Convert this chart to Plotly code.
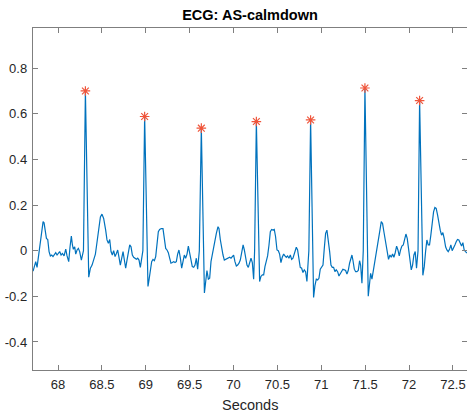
import plotly.graph_objects as go

# ECG samples (seconds, amplitude)
time_s = [
    67.716, 67.735, 67.746, 67.761, 67.776, 67.792, 67.811, 67.830, 67.841, 67.856,
    67.868, 67.883, 67.898, 67.913, 67.928, 67.943, 67.959, 67.974, 67.989, 68.004,
    68.019, 68.035, 68.050, 68.069, 68.088, 68.103, 68.122, 68.137, 68.152, 68.164,
    68.175, 68.190, 68.202, 68.217, 68.232, 68.247, 68.266, 68.290, 68.312, 68.350,
    68.369, 68.388, 68.407, 68.426, 68.445, 68.464, 68.483, 68.501, 68.520, 68.543,
    68.558, 68.574, 68.589, 68.604, 68.619, 68.634, 68.650, 68.665, 68.680, 68.695,
    68.710, 68.726, 68.741, 68.756, 68.771, 68.786, 68.801, 68.817, 68.832, 68.847,
    68.862, 68.877, 68.893, 68.908, 68.923, 68.938, 68.953, 68.967, 68.987, 69.025,
    69.037, 69.052, 69.067, 69.082, 69.098, 69.113, 69.128, 69.143, 69.158, 69.177,
    69.196, 69.211, 69.227, 69.242, 69.257, 69.272, 69.287, 69.303, 69.318, 69.333,
    69.348, 69.363, 69.378, 69.394, 69.409, 69.424, 69.439, 69.454, 69.470, 69.485,
    69.500, 69.515, 69.530, 69.546, 69.561, 69.576, 69.591, 69.610, 69.633, 69.668,
    69.682, 69.697, 69.713, 69.728, 69.743, 69.758, 69.773, 69.789, 69.804, 69.823,
    69.834, 69.849, 69.864, 69.880, 69.895, 69.910, 69.925, 69.940, 69.956, 69.971,
    69.986, 70.001, 70.016, 70.032, 70.047, 70.062, 70.077, 70.092, 70.109, 70.123,
    70.138, 70.153, 70.168, 70.183, 70.199, 70.214, 70.229, 70.240, 70.260, 70.297,
    70.312, 70.328, 70.343, 70.358, 70.373, 70.388, 70.404, 70.419, 70.434, 70.449,
    70.464, 70.479, 70.495, 70.510, 70.525, 70.540, 70.555, 70.571, 70.586, 70.601,
    70.616, 70.631, 70.647, 70.662, 70.677, 70.696, 70.715, 70.730, 70.745, 70.760,
    70.776, 70.791, 70.806, 70.821, 70.836, 70.858, 70.878, 70.912, 70.927, 70.943,
    70.958, 70.973, 70.988, 71.003, 71.019, 71.034, 71.049, 71.064, 71.079, 71.095,
    71.110, 71.125, 71.140, 71.155, 71.170, 71.186, 71.201, 71.216, 71.231, 71.246,
    71.262, 71.277, 71.292, 71.307, 71.322, 71.337, 71.349, 71.360, 71.376, 71.391,
    71.406, 71.421, 71.436, 71.448, 71.463, 71.478, 71.497, 71.535, 71.550, 71.562,
    71.577, 71.592, 71.607, 71.622, 71.637, 71.653, 71.668, 71.683, 71.698, 71.713,
    71.736, 71.751, 71.766, 71.782, 71.797, 71.812, 71.827, 71.842, 71.858, 71.873,
    71.888, 71.903, 71.918, 71.934, 71.949, 71.964, 71.979, 71.994, 72.009, 72.025,
    72.040, 72.055, 72.070, 72.085, 72.102, 72.120, 72.157, 72.173, 72.188, 72.203,
    72.218, 72.233, 72.248, 72.264, 72.279, 72.294, 72.309, 72.325, 72.340, 72.355,
    72.370, 72.385, 72.400, 72.416, 72.431, 72.446, 72.461, 72.476, 72.491, 72.507,
    72.522, 72.537, 72.552, 72.567, 72.582, 72.598, 72.613, 72.628, 72.643, 72.660,
]
ecg = [
    -0.090, -0.055, -0.048, -0.073, -0.026, 0.032, 0.090, 0.127, 0.122, 0.068,
    0.054, 0.049, -0.004, -0.023, -0.019, -0.026, -0.015, -0.009, -0.019, -0.012,
    -0.004, -0.019, -0.012, -0.023, 0.007, -0.023, -0.048, 0.017, 0.064, 0.025,
    0.006, 0.017, -0.015, 0.003, 0.010, -0.004, -0.041, 0.000, 0.700, -0.116,
    -0.077, -0.063, -0.041, -0.015, 0.039, 0.105, 0.148, 0.160, 0.141, 0.090,
    0.047, 0.032, 0.049, -0.004, -0.019, 0.000, -0.026, -0.012, 0.003, -0.029,
    -0.063, -0.033, -0.004, -0.041, -0.077, -0.041, -0.012, 0.025, 0.017, -0.019,
    -0.029, -0.033, -0.038, -0.033, -0.041, -0.073, -0.026, 0.000, 0.588, -0.157,
    -0.128, -0.092, -0.048, -0.038, -0.044, -0.026, 0.047, 0.083, 0.093, 0.097,
    0.097, 0.054, 0.010, 0.003, -0.009, -0.033, -0.055, -0.052, -0.048, -0.052,
    -0.048, -0.015, 0.003, -0.033, -0.077, -0.048, -0.019, -0.033, -0.015, 0.020,
    -0.012, -0.055, -0.070, -0.073, -0.063, -0.033, -0.081, 0.000, 0.537, -0.185,
    -0.135, -0.087, -0.125, -0.121, -0.048, -0.015, 0.000, 0.039, 0.076, 0.105,
    0.097, 0.049, 0.010, -0.019, -0.041, -0.038, -0.033, -0.033, -0.029, -0.033,
    -0.026, -0.019, -0.048, -0.067, -0.063, -0.055, -0.041, -0.009, 0.025, 0.003,
    -0.041, -0.063, -0.073, -0.048, -0.033, -0.052, -0.125, 0.000, 0.566, -0.135,
    -0.113, -0.106, -0.106, -0.070, -0.041, -0.023, 0.025, 0.083, 0.093, 0.090,
    0.093, 0.061, 0.003, 0.000, -0.015, -0.052, -0.029, -0.015, -0.023, -0.029,
    -0.023, -0.033, -0.019, -0.038, -0.033, -0.004, 0.015, 0.003, -0.041, -0.073,
    -0.077, -0.096, -0.084, -0.092, -0.135, 0.000, 0.573, -0.205, -0.154, -0.125,
    -0.128, -0.121, -0.081, -0.073, -0.063, 0.010, 0.076, 0.090, 0.054, -0.004,
    -0.063, -0.073, -0.073, -0.092, -0.084, -0.092, -0.111, -0.099, -0.087, -0.081,
    -0.084, -0.087, -0.102, -0.087, -0.055, -0.029, -0.019, -0.041, -0.081, -0.092,
    -0.092, -0.087, -0.044, -0.063, -0.143, 0.000, 0.713, -0.200, -0.128, -0.099,
    -0.125, -0.092, -0.055, -0.023, 0.010, 0.039, 0.090, 0.127, 0.119, 0.083,
    0.025, -0.019, -0.038, -0.019, -0.029, -0.015, -0.029, -0.009, 0.020, 0.003,
    -0.023, 0.003, 0.020, 0.025, 0.047, 0.073, 0.054, 0.010, -0.055, -0.084,
    -0.063, -0.019, -0.004, -0.077, 0.000, 0.658, -0.108, -0.070, -0.004, 0.047,
    0.025, 0.025, 0.068, 0.119, 0.170, 0.189, 0.185, 0.156, 0.119, 0.090,
    0.068, 0.079, 0.054, 0.017, 0.003, -0.004, 0.006, 0.025, 0.000, 0.010,
    0.025, 0.039, 0.049, 0.047, 0.032, 0.020, 0.035, 0.003, -0.004, -0.010,
]

# detected R peaks
peak_time = [68.312, 68.987, 69.633, 70.260, 70.878, 71.497, 72.120]
peak_amp = [0.700, 0.588, 0.537, 0.566, 0.573, 0.713, 0.658]

xtick_vals = [68, 68.5, 69, 69.5, 70, 70.5, 71, 71.5, 72, 72.5]
xtick_text = ["68", "68.5", "69", "69.5", "70", "70.5", "71", "71.5", "72", "72.5"]
ytick_vals = [-0.4, -0.2, 0, 0.2, 0.4, 0.6, 0.8]
ytick_text = ["-0.4", "-0.2", "0", "0.2", "0.4", "0.6", "0.8"]

AXIS_COLOR = "#7f7f7f"
TEXT_COLOR = "#262626"
FONT = "Liberation Sans, Arial, sans-serif"
FIG_W, FIG_H = 467, 412

fig = go.Figure()
fig.add_trace(go.Scatter(x=time_s, y=ecg, mode="lines",
                         line=dict(color="#0072BD", width=1.2), hoverinfo="skip"))
fig.add_trace(go.Scatter(x=peak_time, y=peak_amp, mode="markers",
                         marker=dict(symbol="asterisk-open", size=8,
                                     line=dict(color="#ff0000", width=1.2)),
                         hoverinfo="skip"))

axis_common = dict(showline=True, linecolor=AXIS_COLOR, linewidth=1.2, mirror="ticks",
                   ticks="inside", ticklen=5, tickcolor=AXIS_COLOR, tickwidth=1,
                   showgrid=False, zeroline=False, automargin=False,
                   ticklabeloverflow="allow",
                   tickfont=dict(family=FONT, size=13, color=TEXT_COLOR))

fig.update_xaxes(range=[67.715, 72.66], tickvals=xtick_vals, ticktext=xtick_text,
                 ticklabelstandoff=2, **axis_common)
fig.update_yaxes(range=[-0.523, 0.976], tickvals=ytick_vals, ticktext=ytick_text,
                 ticklabelstandoff=2, **axis_common)

fig.add_annotation(text="Seconds", xref="paper", yref="paper", x=0.5, y=0,
                   xanchor="center", yanchor="middle", yshift=-35, showarrow=False,
                   font=dict(family=FONT, size=14.5, color=TEXT_COLOR))

fig.update_layout(
    width=FIG_W, height=FIG_H,
    margin=dict(l=33, r=0, t=28, b=42),
    plot_bgcolor="white", paper_bgcolor="white",
    showlegend=False,
    title=dict(text="<b>ECG: AS-calmdown</b>", x=250 / FIG_W, xanchor="center",
               y=1 - 15 / FIG_H, yanchor="middle", yref="container",
               font=dict(family=FONT, size=14.5, color="#000000")),
)

# drop the default 8px page margin so the figure fills the window exactly
fig.write_html("out.html", config={"displayModeBar": False, "staticPlot": True},
               post_script="document.body.style.margin = '0';")
